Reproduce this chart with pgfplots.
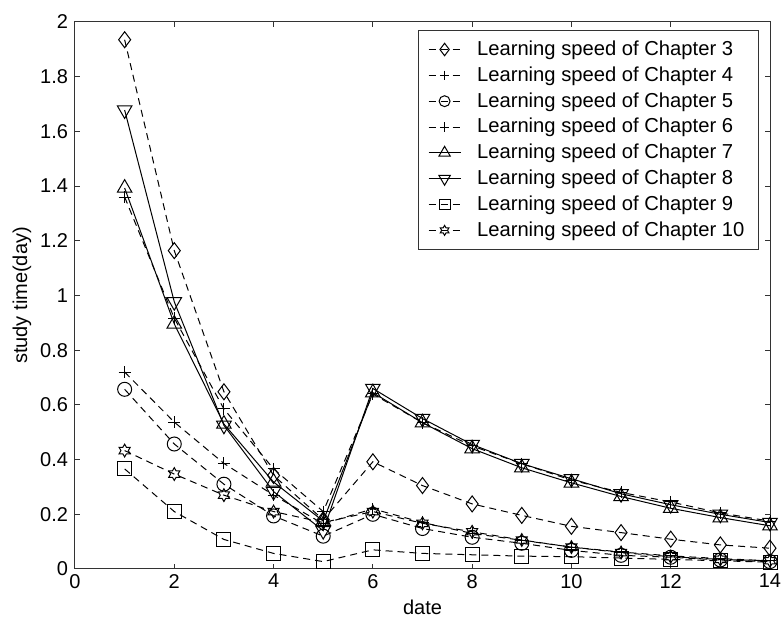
\documentclass[border=0pt]{standalone}
\usepackage{fontspec}
\setmainfont{Liberation Sans}
\usepackage{pgfplots}
\usepackage{pgfplotstable}
\pgfplotsset{compat=1.18}
\usetikzlibrary{plotmarks}

\pgfdeclareplotmark{hexagram}{%
  \pgfpathmoveto{\pgfqpointpolar{90}{\pgfplotmarksize}}%
  \pgfpathlineto{\pgfqpointpolar{120}{0.577\pgfplotmarksize}}%
  \pgfpathlineto{\pgfqpointpolar{150}{\pgfplotmarksize}}%
  \pgfpathlineto{\pgfqpointpolar{180}{0.577\pgfplotmarksize}}%
  \pgfpathlineto{\pgfqpointpolar{210}{\pgfplotmarksize}}%
  \pgfpathlineto{\pgfqpointpolar{240}{0.577\pgfplotmarksize}}%
  \pgfpathlineto{\pgfqpointpolar{270}{\pgfplotmarksize}}%
  \pgfpathlineto{\pgfqpointpolar{300}{0.577\pgfplotmarksize}}%
  \pgfpathlineto{\pgfqpointpolar{330}{\pgfplotmarksize}}%
  \pgfpathlineto{\pgfqpointpolar{0}{0.577\pgfplotmarksize}}%
  \pgfpathlineto{\pgfqpointpolar{30}{\pgfplotmarksize}}%
  \pgfpathlineto{\pgfqpointpolar{60}{0.577\pgfplotmarksize}}%
  \pgfpathclose
  \pgfusepathqstroke
}

% columns: date, ch3 ... ch10
\pgfplotstableread{
x  c3    c4    c5    c6    c7    c8    c9    c10
1  1.935 0.720 0.657 1.360 1.393 1.678 0.366 0.433
2  1.164 0.537 0.457 0.917 0.896 0.977 0.210 0.347
3  0.648 0.386 0.310 0.585 0.530 0.525 0.108 0.270
4  0.342 0.270 0.194 0.366 0.318 0.283 0.057 0.210
5  0.180 0.165 0.120 0.210 0.175 0.140 0.027 0.170
6  0.392 0.220 0.200 0.640 0.645 0.660 0.070 0.210
7  0.305 0.170 0.148 0.535 0.535 0.550 0.057 0.167
8  0.238 0.130 0.116 0.450 0.440 0.455 0.052 0.136
9  0.196 0.105 0.094 0.385 0.370 0.385 0.047 0.106
10 0.156 0.080 0.068 0.325 0.315 0.330 0.045 0.080
11 0.133 0.062 0.050 0.280 0.265 0.275 0.040 0.060
12 0.109 0.048 0.043 0.245 0.222 0.235 0.035 0.045
13 0.088 0.038 0.033 0.205 0.188 0.200 0.030 0.035
14 0.076 0.030 0.027 0.175 0.158 0.170 0.025 0.030
}\datatable

\begin{document}
\begin{tikzpicture}
\begin{axis}[
  scale only axis,
  width=347.5pt, height=273.5pt,
  xmin=0, xmax=14, ymin=0, ymax=2,
  xtick={0,2,4,6,8,10,12,14},
  ytick={0,0.2,0.4,0.6,0.8,1,1.2,1.4,1.6,1.8,2},
  yticklabels={0,0.2,0.4,0.6,0.8,1,1.2,1.4,1.6,1.8,2},
  tick align=inside, tick pos=both,
  major tick length=2.5pt,
  axis line style={line width=0.5pt, black!80},
  every tick/.style={black!80, line width=0.5pt},
  /pgf/number format/assume math mode=true,
  tick label style={font=\fontsize{10}{12}\selectfont},
  xticklabel style={yshift=1pt},
  xlabel={date}, ylabel={study time(day)},
  label style={font=\fontsize{10}{12}\selectfont},
  every axis x label/.style={at={(axis description cs:0.5,-0.0695)}, anchor=center},
  every axis y label/.style={at={(axis description cs:-0.0763,0.5)}, rotate=90, anchor=center},
  legend style={at={(0.984,0.985)}, anchor=north east, draw=black!80,
    line width=0.5pt, font=\fontsize{10.1}{12}\selectfont,
    row sep=0.1pt, inner xsep=3pt, inner ysep=3pt,
    nodes={inner xsep=4pt}},
  legend cell align=left,
  legend image code/.code={%
    \path (-2pt,0pt) (20pt,0pt);
    \draw[mark repeat=2, mark phase=2, #1, every mark/.append style={scale=0.78}]
      plot coordinates {(0pt,0pt) (8pt,0pt) (16pt,0pt)};},
  every axis plot/.append style={black, line width=0.5pt},
]
\addplot[dash pattern=on 3.5pt off 2.5pt, mark=diamond, mark size=4pt, mark options={solid}] table[x=x,y=c3]{\datatable};
\addlegendentry{Learning speed of Chapter 3}
\addplot[dash pattern=on 3.5pt off 2.5pt, mark=+, mark size=3pt, mark options={solid}] table[x=x,y=c4]{\datatable};
\addlegendentry{Learning speed of Chapter 4}
\addplot[dash pattern=on 3.5pt off 2.5pt, mark=o, mark size=3.5pt, mark options={solid}] table[x=x,y=c5]{\datatable};
\addlegendentry{Learning speed of Chapter 5}
\addplot[dash pattern=on 3.5pt off 2.5pt, mark=+, mark size=3pt, mark options={solid}] table[x=x,y=c6]{\datatable};
\addlegendentry{Learning speed of Chapter 6}
\addplot[solid, mark=triangle, mark size=4.2pt, mark options={solid}] table[x=x,y=c7]{\datatable};
\addlegendentry{Learning speed of Chapter 7}
\addplot[solid, mark=triangle, mark size=4.2pt, mark options={solid, rotate=180}] table[x=x,y=c8]{\datatable};
\addlegendentry{Learning speed of Chapter 8}
\addplot[dash pattern=on 3.5pt off 2.5pt, mark=square, mark size=3.5pt, mark options={solid}] table[x=x,y=c9]{\datatable};
\addlegendentry{Learning speed of Chapter 9}
\addplot[dash pattern=on 3.5pt off 2.5pt, mark=hexagram, mark size=3.2pt, mark options={solid}] table[x=x,y=c10]{\datatable};
\addlegendentry{Learning speed of Chapter 10}
\end{axis}
\pgfresetboundingbox
\path ([xshift=-37.5pt,yshift=-28pt]current axis.south west) rectangle ([xshift=6.5pt,yshift=11pt]current axis.north east);
\end{tikzpicture}
\end{document}
